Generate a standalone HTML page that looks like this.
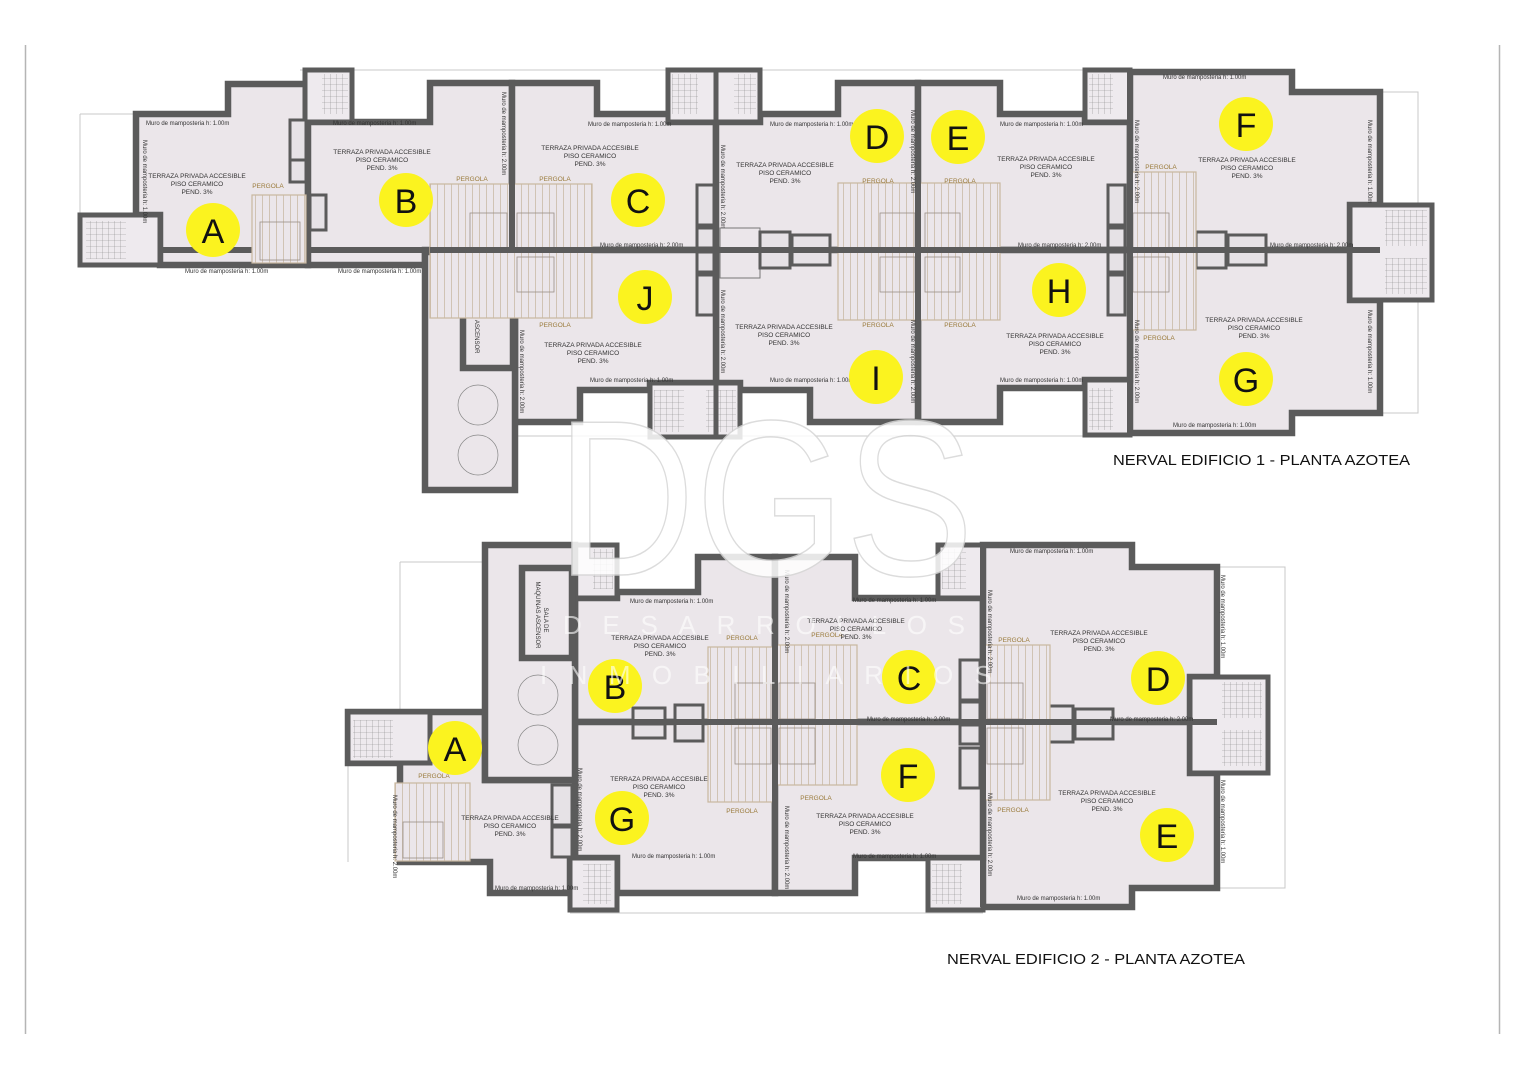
<!DOCTYPE html>
<html><head><meta charset="utf-8">
<style>
html,body{margin:0;padding:0;background:#fff;}
svg{display:block;}
text{font-family:"Liberation Sans",sans-serif;}
.u{fill:#ebe6ea;stroke:#5b5b5b;stroke-width:6.5;stroke-linejoin:miter;}
.st{fill:#eeeaee;stroke:#5b5b5b;stroke-width:5;}
.sg{fill:none;stroke:#888;stroke-width:0.7;}
.thin{fill:none;stroke:#c8c8c8;stroke-width:1;}
.per{fill:url(#pg);stroke:#c9b79f;stroke-width:1.2;}
.pin{fill:none;stroke:#9a8f86;stroke-width:0.8;}
.lbl{font-size:6px;fill:#333;}
.tz{font-size:6.5px;fill:#333;text-anchor:middle;}
.pl{font-size:6.5px;fill:#9a7a3a;text-anchor:middle;}
.ci{fill:#fbf31f;}
.L{font-size:34px;fill:#111;text-anchor:middle;}
.bx{fill:#e6e2e6;stroke:#5b5b5b;stroke-width:3;}
</style></head><body>
<svg width="1526" height="1080" viewBox="0 0 1526 1080" xmlns="http://www.w3.org/2000/svg">
<defs>
<pattern id="pg" width="7" height="7" patternUnits="userSpaceOnUse">
<rect width="7" height="7" fill="#ebe6ea"/>
<line x1="3.5" y1="0" x2="3.5" y2="7" stroke="#cdbfae" stroke-width="0.9"/>
</pattern>
<pattern id="sp" width="6" height="6" patternUnits="userSpaceOnUse">
<rect width="6" height="6" fill="#eeeaee"/>
<path d="M0 0H6M0 0V6" stroke="#8a8a8a" stroke-width="0.6"/>
</pattern>
</defs>
<rect width="1526" height="1080" fill="#fff"/>
<line x1="25.5" y1="45" x2="25.5" y2="1034" stroke="#b5b5b5" stroke-width="1.5"/>
<line x1="1499.5" y1="45" x2="1499.5" y2="1034" stroke="#b5b5b5" stroke-width="1.5"/>

<!-- ========== BUILDING 1 ========== -->
<g>
<path class="thin" d="M80 114V265M80 114H136M300 70H1130M1380 92H1418V413H1380M515 436H1130"/>
<polygon class="u" points="136,114 228,114 228,84 308,84 308,265 160,265 160,215 136,215"/>
<polygon class="u" points="308,122 430,122 430,83 512,83 512,250 425,250 425,265 308,265"/>
<polygon class="u" points="512,83 597,83 597,114 670,114 670,122 716,122 716,250 512,250"/>
<polygon class="u" points="716,122 760,122 760,114 838,114 838,83 918,83 918,250 716,250"/>
<polygon class="u" points="918,83 1000,83 1000,114 1085,114 1085,122 1130,122 1130,250 918,250"/>
<polygon class="u" points="1130,72 1292,72 1292,92 1380,92 1380,205 1350,205 1350,250 1130,250"/>
<polygon class="u" points="1130,250 1350,250 1350,300 1380,300 1380,413 1292,413 1292,433 1130,433"/>
<polygon class="u" points="918,250 1130,250 1130,380 1085,380 1085,388 1000,388 1000,422 918,422"/>
<polygon class="u" points="716,250 918,250 918,422 810,422 810,390 740,390 740,383 716,383"/>
<polygon class="u" points="515,250 716,250 716,383 650,383 650,390 580,390 580,422 515,422"/>
<line x1="160" y1="250" x2="1432" y2="250" stroke="#5b5b5b" stroke-width="6"/>
<rect class="st" x="80" y="215" width="80" height="50"/><rect x="86" y="221" width="40" height="38" fill="url(#sp)"/>
<rect class="st" x="305" y="70" width="47" height="52"/><rect x="322" y="74" width="26" height="40" fill="url(#sp)"/>
<rect class="st" x="668" y="70" width="48" height="52"/><rect x="672" y="74" width="26" height="40" fill="url(#sp)"/>
<rect class="st" x="716" y="70" width="44" height="52"/><rect x="734" y="74" width="22" height="40" fill="url(#sp)"/>
<rect class="st" x="1085" y="70" width="45" height="52"/><rect x="1089" y="74" width="24" height="40" fill="url(#sp)"/>
<rect class="st" x="1350" y="205" width="82" height="95"/><rect x="1385" y="210" width="42" height="36" fill="url(#sp)"/><rect x="1385" y="258" width="42" height="36" fill="url(#sp)"/>
<rect class="st" x="650" y="383" width="90" height="54"/><rect x="654" y="390" width="30" height="42" fill="url(#sp)"/><rect x="706" y="390" width="30" height="42" fill="url(#sp)"/>
<line x1="716" y1="383" x2="716" y2="437" stroke="#5b5b5b" stroke-width="5"/>
<rect class="st" x="1085" y="380" width="45" height="55"/><rect x="1089" y="388" width="24" height="42" fill="url(#sp)"/>
<rect class="u" x="425" y="252" width="90" height="238"/>
<rect class="u" x="463" y="272" width="50" height="96"/>
<circle cx="478" cy="405" r="20" class="sg"/><circle cx="478" cy="455" r="20" class="sg"/>
<text transform="translate(483,300) rotate(90)" class="lbl" text-anchor="middle" font-size="6.5">SALA DE</text>
<text transform="translate(475,320) rotate(90)" class="lbl" text-anchor="middle" font-size="6.5">MAQUINAS ASCENSOR</text>
<rect class="bx" x="290" y="120" width="16" height="40"/><rect class="bx" x="290" y="160" width="16" height="22"/><rect class="bx" x="310" y="195" width="16" height="35"/>
<rect class="bx" x="697" y="185" width="17" height="40"/><rect class="bx" x="697" y="228" width="17" height="20"/><rect class="bx" x="697" y="252" width="17" height="20"/><rect class="bx" x="697" y="275" width="17" height="40"/>
<rect x="720" y="228" width="40" height="50" fill="#ebe6ea" stroke="#777" stroke-width="1"/>
<rect class="bx" x="760" y="232" width="30" height="36"/><rect class="bx" x="792" y="235" width="38" height="30"/>
<rect class="bx" x="1108" y="185" width="17" height="40"/><rect class="bx" x="1108" y="228" width="17" height="20"/><rect class="bx" x="1108" y="252" width="17" height="20"/><rect class="bx" x="1108" y="275" width="17" height="40"/>
<rect class="bx" x="1196" y="232" width="30" height="36"/><rect class="bx" x="1228" y="235" width="38" height="30"/>
<rect class="per" x="252" y="195" width="54" height="68"/><rect class="pin" x="260" y="222" width="40" height="38"/>
<rect class="per" x="430" y="184" width="162" height="134"/><rect class="pin" x="470" y="213" width="37" height="35"/><rect class="pin" x="517" y="213" width="37" height="35"/><rect class="pin" x="517" y="257" width="37" height="35"/>
<rect class="per" x="838" y="183" width="162" height="137"/><rect class="pin" x="880" y="213" width="35" height="35"/><rect class="pin" x="925" y="213" width="35" height="35"/><rect class="pin" x="880" y="257" width="35" height="35"/><rect class="pin" x="925" y="257" width="35" height="35"/>
<rect class="per" x="1130" y="172" width="66" height="158"/><rect class="pin" x="1133" y="213" width="36" height="35"/><rect class="pin" x="1133" y="257" width="36" height="35"/>
<line x1="430" y1="250" x2="1380" y2="250" stroke="#5b5b5b" stroke-width="6"/>
<line x1="512" y1="83" x2="512" y2="250" stroke="#5b5b5b" stroke-width="6"/><line x1="918" y1="83" x2="918" y2="422" stroke="#5b5b5b" stroke-width="6"/><line x1="1130" y1="72" x2="1130" y2="433" stroke="#5b5b5b" stroke-width="6"/><line x1="716" y1="122" x2="716" y2="383" stroke="#5b5b5b" stroke-width="6"/>
<text class="pl" x="268" y="188">PERGOLA</text><text class="pl" x="472" y="181">PERGOLA</text><text class="pl" x="555" y="181">PERGOLA</text><text class="pl" x="555" y="327">PERGOLA</text>
<text class="pl" x="878" y="183">PERGOLA</text><text class="pl" x="960" y="183">PERGOLA</text><text class="pl" x="878" y="327">PERGOLA</text><text class="pl" x="960" y="327">PERGOLA</text>
<text class="pl" x="1161" y="169">PERGOLA</text><text class="pl" x="1159" y="340">PERGOLA</text>
<g class="lbl">
<text x="146" y="125">Muro de mamposteria h: 1.00m</text>
<text x="333" y="125">Muro de mamposteria h: 1.00m</text>
<text x="588" y="126">Muro de mamposteria h: 1.00m</text>
<text x="770" y="126">Muro de mamposteria h: 1.00m</text>
<text x="1000" y="126">Muro de mamposteria h: 1.00m</text>
<text x="1163" y="79">Muro de mamposteria h: 1.00m</text>
<text x="185" y="273">Muro de mamposteria h: 1.00m</text>
<text x="338" y="273">Muro de mamposteria h: 1.00m</text>
<text x="600" y="247">Muro de mamposteria h: 2.00m</text>
<text x="1018" y="247">Muro de mamposteria h: 2.00m</text>
<text x="1270" y="247">Muro de mamposteria h: 2.00m</text>
<text x="590" y="382">Muro de mamposteria h: 1.00m</text>
<text x="770" y="382">Muro de mamposteria h: 1.00m</text>
<text x="1000" y="382">Muro de mamposteria h: 1.00m</text>
<text x="1173" y="427">Muro de mamposteria h: 1.00m</text>
<text transform="translate(143,140) rotate(90)">Muro de mamposteria h: 1.00m</text>
<text transform="translate(502,92) rotate(90)">Muro de mamposteria h: 2.00m</text>
<text transform="translate(721,145) rotate(90)">Muro de mamposteria h: 2.00m</text>
<text transform="translate(911,110) rotate(90)">Muro de mamposteria h: 2.00m</text>
<text transform="translate(1135,120) rotate(90)">Muro de mamposteria h: 2.00m</text>
<text transform="translate(1368,120) rotate(90)">Muro de mamposteria h: 1.00m</text>
<text transform="translate(520,330) rotate(90)">Muro de mamposteria h: 2.00m</text>
<text transform="translate(721,290) rotate(90)">Muro de mamposteria h: 2.00m</text>
<text transform="translate(911,320) rotate(90)">Muro de mamposteria h: 2.00m</text>
<text transform="translate(1135,320) rotate(90)">Muro de mamposteria h: 2.00m</text>
<text transform="translate(1368,310) rotate(90)">Muro de mamposteria h: 1.00m</text>
</g>
<g class="tz">
<text x="197" y="178">TERRAZA PRIVADA ACCESIBLE</text><text x="197" y="186">PISO CERAMICO</text><text x="197" y="194">PEND. 3%</text>
<text x="382" y="154">TERRAZA PRIVADA ACCESIBLE</text><text x="382" y="162">PISO CERAMICO</text><text x="382" y="170">PEND. 3%</text>
<text x="590" y="150">TERRAZA PRIVADA ACCESIBLE</text><text x="590" y="158">PISO CERAMICO</text><text x="590" y="166">PEND. 3%</text>
<text x="785" y="167">TERRAZA PRIVADA ACCESIBLE</text><text x="785" y="175">PISO CERAMICO</text><text x="785" y="183">PEND. 3%</text>
<text x="1046" y="161">TERRAZA PRIVADA ACCESIBLE</text><text x="1046" y="169">PISO CERAMICO</text><text x="1046" y="177">PEND. 3%</text>
<text x="1247" y="162">TERRAZA PRIVADA ACCESIBLE</text><text x="1247" y="170">PISO CERAMICO</text><text x="1247" y="178">PEND. 3%</text>
<text x="593" y="347">TERRAZA PRIVADA ACCESIBLE</text><text x="593" y="355">PISO CERAMICO</text><text x="593" y="363">PEND. 3%</text>
<text x="784" y="329">TERRAZA PRIVADA ACCESIBLE</text><text x="784" y="337">PISO CERAMICO</text><text x="784" y="345">PEND. 3%</text>
<text x="1055" y="338">TERRAZA PRIVADA ACCESIBLE</text><text x="1055" y="346">PISO CERAMICO</text><text x="1055" y="354">PEND. 3%</text>
<text x="1254" y="322">TERRAZA PRIVADA ACCESIBLE</text><text x="1254" y="330">PISO CERAMICO</text><text x="1254" y="338">PEND. 3%</text>
</g>
<circle class="ci" cx="213" cy="230" r="27"/><text class="L" x="213" y="243">A</text>
<circle class="ci" cx="406" cy="200" r="27"/><text class="L" x="406" y="213">B</text>
<circle class="ci" cx="638" cy="200" r="27"/><text class="L" x="638" y="213">C</text>
<circle class="ci" cx="877" cy="136" r="27"/><text class="L" x="877" y="149">D</text>
<circle class="ci" cx="958" cy="137" r="27"/><text class="L" x="958" y="150">E</text>
<circle class="ci" cx="1246" cy="124" r="27"/><text class="L" x="1246" y="137">F</text>
<circle class="ci" cx="645" cy="297" r="27"/><text class="L" x="645" y="310">J</text>
<circle class="ci" cx="876" cy="377" r="27"/><text class="L" x="876" y="390">I</text>
<circle class="ci" cx="1059" cy="290" r="27"/><text class="L" x="1059" y="303">H</text>
<circle class="ci" cx="1246" cy="379" r="27"/><text class="L" x="1246" y="392">G</text>
</g>
<text x="1113" y="465" font-size="15" fill="#111" textLength="297" lengthAdjust="spacingAndGlyphs">NERVAL EDIFICIO 1 - PLANTA AZOTEA</text>

<!-- ========== BUILDING 2 ========== -->
<g>
<path class="thin" d="M400 562V862M400 562H485M348 763V862M1217 567H1285V888H1217M570 913H983"/>
<polygon class="u" points="617,592 698,592 698,557 775,557 775,722 575,722 575,598 617,598"/>
<polygon class="u" points="575,722 775,722 775,893 617,893 617,858 575,858"/>
<polygon class="u" points="348,712 485,712 485,780 575,780 575,858 570,858 570,893 490,893 490,862 400,862 400,763 348,763"/>
<polygon class="u" points="775,557 855,557 855,598 983,598 983,722 775,722"/>
<polygon class="u" points="983,545 1132,545 1132,567 1217,567 1217,677 1190,677 1190,722 983,722"/>
<polygon class="u" points="983,722 1190,722 1190,773 1217,773 1217,888 1132,888 1132,907 983,907"/>
<polygon class="u" points="775,722 983,722 983,858 855,858 855,893 775,893"/>
<line x1="575" y1="722" x2="1268" y2="722" stroke="#5b5b5b" stroke-width="6"/>
<rect class="st" x="575" y="545" width="42" height="53"/><rect x="593" y="549" width="20" height="40" fill="url(#sp)"/>
<rect class="st" x="938" y="545" width="45" height="53"/><rect x="942" y="549" width="24" height="40" fill="url(#sp)"/>
<rect class="st" x="1190" y="677" width="78" height="96"/><rect x="1222" y="682" width="40" height="36" fill="url(#sp)"/><rect x="1222" y="730" width="40" height="36" fill="url(#sp)"/>
<rect class="st" x="348" y="712" width="82" height="51"/><rect x="353" y="720" width="40" height="38" fill="url(#sp)"/>
<rect class="st" x="570" y="858" width="47" height="52"/><rect x="583" y="864" width="28" height="40" fill="url(#sp)"/>
<rect class="st" x="928" y="858" width="55" height="52"/><rect x="932" y="864" width="30" height="40" fill="url(#sp)"/>
<rect class="u" x="485" y="545" width="90" height="235"/>
<rect class="u" x="522" y="568" width="50" height="90"/>
<circle cx="538" cy="695" r="20" class="sg"/><circle cx="538" cy="745" r="20" class="sg"/>
<text transform="translate(544,620) rotate(90)" class="lbl" text-anchor="middle" font-size="6.5">SALA DE</text>
<text transform="translate(536,615) rotate(90)" class="lbl" text-anchor="middle" font-size="6.5">MAQUINAS ASCENSOR</text>
<rect class="bx" x="633" y="708" width="32" height="14"/><rect class="bx" x="633" y="724" width="32" height="14"/><rect class="bx" x="675" y="705" width="28" height="36"/>
<rect class="bx" x="752" y="660" width="20" height="40"/><rect class="bx" x="752" y="702" width="20" height="19"/><rect class="bx" x="752" y="725" width="20" height="19"/><rect class="bx" x="752" y="748" width="20" height="40"/>
<rect class="bx" x="960" y="660" width="20" height="40"/><rect class="bx" x="960" y="702" width="20" height="19"/><rect class="bx" x="960" y="725" width="20" height="19"/><rect class="bx" x="960" y="748" width="20" height="40"/>
<rect class="bx" x="1043" y="706" width="30" height="36"/><rect class="bx" x="1075" y="709" width="38" height="30"/>
<rect class="bx" x="552" y="785" width="20" height="40"/><rect class="bx" x="552" y="827" width="20" height="30"/>
<rect class="per" x="708" y="647" width="67" height="155"/><rect class="pin" x="735" y="683" width="36" height="36"/><rect class="pin" x="735" y="728" width="36" height="36"/>
<rect class="per" x="775" y="645" width="82" height="140"/><rect class="pin" x="779" y="683" width="36" height="36"/><rect class="pin" x="779" y="728" width="36" height="36"/>
<rect class="per" x="983" y="645" width="67" height="155"/><rect class="pin" x="987" y="683" width="36" height="36"/><rect class="pin" x="987" y="728" width="36" height="36"/>
<rect class="per" x="395" y="783" width="75" height="78"/><rect class="pin" x="403" y="822" width="40" height="36"/>
<line x1="575" y1="722" x2="1217" y2="722" stroke="#5b5b5b" stroke-width="6"/>
<line x1="775" y1="557" x2="775" y2="893" stroke="#5b5b5b" stroke-width="6"/><line x1="983" y1="545" x2="983" y2="907" stroke="#5b5b5b" stroke-width="6"/>
<text class="pl" x="742" y="640">PERGOLA</text><text class="pl" x="827" y="637">PERGOLA</text><text class="pl" x="742" y="813">PERGOLA</text><text class="pl" x="816" y="800">PERGOLA</text>
<text class="pl" x="1014" y="642">PERGOLA</text><text class="pl" x="1013" y="812">PERGOLA</text><text class="pl" x="434" y="778">PERGOLA</text>
<g class="lbl">
<text x="630" y="603">Muro de mamposteria h: 1.00m</text>
<text x="853" y="602">Muro de mamposteria h: 1.00m</text>
<text x="1010" y="553">Muro de mamposteria h: 1.00m</text>
<text x="867" y="721">Muro de mamposteria h: 2.00m</text>
<text x="1110" y="721">Muro de mamposteria h: 2.00m</text>
<text x="632" y="858">Muro de mamposteria h: 1.00m</text>
<text x="853" y="858">Muro de mamposteria h: 1.00m</text>
<text x="1017" y="900">Muro de mamposteria h: 1.00m</text>
<text x="495" y="890">Muro de mamposteria h: 1.00m</text>
<text transform="translate(785,570) rotate(90)">Muro de mamposteria h: 2.00m</text>
<text transform="translate(988,590) rotate(90)">Muro de mamposteria h: 2.00m</text>
<text transform="translate(1221,575) rotate(90)">Muro de mamposteria h: 1.00m</text>
<text transform="translate(578,768) rotate(90)">Muro de mamposteria h: 2.00m</text>
<text transform="translate(785,806) rotate(90)">Muro de mamposteria h: 2.00m</text>
<text transform="translate(988,793) rotate(90)">Muro de mamposteria h: 2.00m</text>
<text transform="translate(1221,780) rotate(90)">Muro de mamposteria h: 1.00m</text>
<text transform="translate(393,795) rotate(90)">Muro de mamposteria h: 2.00m</text>
</g>
<g class="tz">
<text x="660" y="640">TERRAZA PRIVADA ACCESIBLE</text><text x="660" y="648">PISO CERAMICO</text><text x="660" y="656">PEND. 3%</text>
<text x="856" y="623">TERRAZA PRIVADA ACCESIBLE</text><text x="856" y="631">PISO CERAMICO</text><text x="856" y="639">PEND. 3%</text>
<text x="1099" y="635">TERRAZA PRIVADA ACCESIBLE</text><text x="1099" y="643">PISO CERAMICO</text><text x="1099" y="651">PEND. 3%</text>
<text x="659" y="781">TERRAZA PRIVADA ACCESIBLE</text><text x="659" y="789">PISO CERAMICO</text><text x="659" y="797">PEND. 3%</text>
<text x="510" y="820">TERRAZA PRIVADA ACCESIBLE</text><text x="510" y="828">PISO CERAMICO</text><text x="510" y="836">PEND. 3%</text>
<text x="865" y="818">TERRAZA PRIVADA ACCESIBLE</text><text x="865" y="826">PISO CERAMICO</text><text x="865" y="834">PEND. 3%</text>
<text x="1107" y="795">TERRAZA PRIVADA ACCESIBLE</text><text x="1107" y="803">PISO CERAMICO</text><text x="1107" y="811">PEND. 3%</text>
</g>
<circle class="ci" cx="615" cy="686" r="27"/><text class="L" x="615" y="699">B</text>
<circle class="ci" cx="909" cy="677" r="27"/><text class="L" x="909" y="690">C</text>
<circle class="ci" cx="1158" cy="678" r="27"/><text class="L" x="1158" y="691">D</text>
<circle class="ci" cx="455" cy="748" r="27"/><text class="L" x="455" y="761">A</text>
<circle class="ci" cx="908" cy="775" r="27"/><text class="L" x="908" y="788">F</text>
<circle class="ci" cx="622" cy="818" r="27"/><text class="L" x="622" y="831">G</text>
<circle class="ci" cx="1167" cy="835" r="27"/><text class="L" x="1167" y="848">E</text>
</g>
<text x="947" y="964" font-size="15" fill="#111" textLength="298" lengthAdjust="spacingAndGlyphs">NERVAL EDIFICIO 2 - PLANTA AZOTEA</text>

<!-- watermark -->
<g fill="#fff" opacity="0.85" stroke="#d6d6d6" stroke-width="1.5">
<text x="556" y="575" font-size="222" textLength="418" lengthAdjust="spacingAndGlyphs">DGS</text>
</g>
<g fill="#fff" opacity="0.6">
<text x="563" y="634" font-size="26" textLength="402" lengthAdjust="spacing">DESARROLLOS</text>
<text x="540" y="684" font-size="26" textLength="452" lengthAdjust="spacing">INMOBILIARIOS</text>
</g>
</svg>
</body></html>
